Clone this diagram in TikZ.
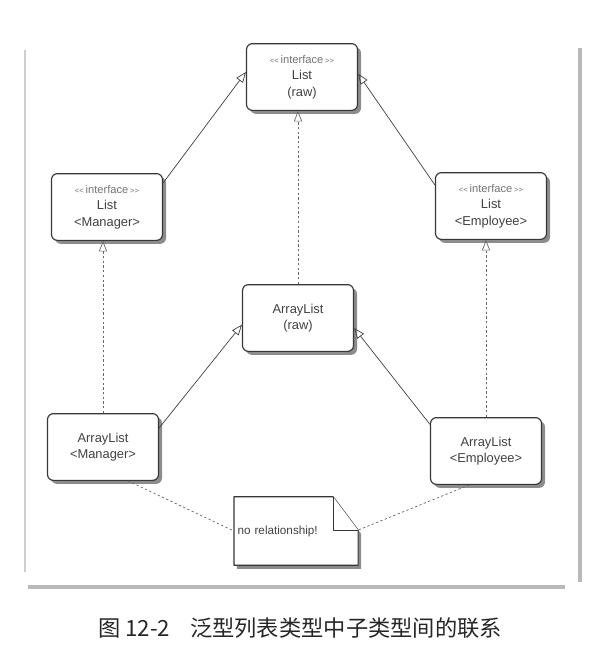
\documentclass[tikz,border=0pt]{standalone}
\usepackage{fontspec}
\setmainfont{Liberation Sans}
\newfontfamily\cjkfont{Noto Sans CJK SC}
\usetikzlibrary{arrows.meta,shadows,backgrounds}
\definecolor{boxline}{RGB}{55,55,55}
\definecolor{textgray}{RGB}{65,65,65}
\definecolor{framegray}{RGB}{185,185,185}
\newcommand{\ifacelabel}{{\fontsize{9.5}{11}\selectfont\color{black!55}%
  {\fontsize{6.5}{7}\selectfont<{}<}\,interface\,{\fontsize{6.5}{7}\selectfont>{}>}}}

\begin{document}
\begin{tikzpicture}[x=0.03cm,y=-0.03cm,
  box/.style={draw=boxline,fill=white,rounded corners=5pt,line width=1pt,
              align=center,minimum width=3.33cm,minimum height=2cm,
              text=textgray,font=\fontsize{11}{14}\selectfont,
              drop shadow={shadow xshift=3pt,shadow yshift=-3pt,
                           fill=black!60,opacity=0.75}},
  notebox/.style={text width=3.5cm,inner xsep=3pt,minimum height=2.04cm,
                  align=left,text=textgray,font=\fontsize{10}{12}\selectfont},
  noteline/.style={draw=boxline,fill=white,line width=1pt,line join=round},
  noteshadow/.style={drop shadow={shadow xshift=2.5pt,shadow yshift=-3pt,
                                  fill=black!60,opacity=0.75}},
  arrow/.style={-{Triangle[open,length=9pt,width=7pt]},line width=0.6pt,
                color=black!75},
  dasharrow/.style={arrow,color=black!60,dash pattern=on 2pt off 2pt},
  noteedge/.style={line width=0.6pt,color=black!60,dash pattern=on 2pt off 2pt},
  caption/.style={font=\cjkfont\fontsize{19}{19}\selectfont,text=black!85}
]
\useasboundingbox (0,0) rectangle (601,672);

% page frame
\draw[framegray!70,line width=1.5pt] (25,50) -- (25,572);
\draw[framegray,line width=3pt] (580,48) -- (580,582);
\draw[framegray,line width=4pt] (28,587) -- (565,587);

% classes
\node[box] (listraw) at (302,77) {\ifacelabel\\List\\(raw)};
\node[box] (listmgr) at (107,207) {\ifacelabel\\List\\<Manager>};
\node[box] (listemp) at (491,206) {\ifacelabel\\List\\<Employee>};
\node[box] (alraw) at (298,318) {ArrayList\\(raw)};
\node[box] (almgr) at (103,447) {ArrayList\\<Manager>};
\node[box] (alemp) at (486,451) {ArrayList\\<Employee>};

% note
\node[notebox] (note) at (296,531) {no relationship!};
\begin{scope}[on background layer]
\filldraw[noteline,noteshadow] (note.north west) -- ([xshift=-0.75cm]note.north east)
  -- ([yshift=-1cm]note.north east) -- (note.south east)
  -- (note.south west) -- cycle;
\draw[noteline] ([xshift=-0.75cm]note.north east)
  |- ([yshift=-1cm]note.north east);
\end{scope}

% connectors
\draw[arrow] ([yshift=0.72cm]listmgr.east) -- ([yshift=0.15cm]listraw.west);
\draw[arrow] ([yshift=0.63cm]listemp.west) -- ([yshift=0.1cm]listraw.east);
\draw[arrow] ([yshift=0.57cm]almgr.east) -- ([yshift=-0.2cm]alraw.west);
\draw[arrow] ([yshift=0.8cm]alemp.west) -- ([yshift=-0.3cm]alraw.east);
\draw[dasharrow] (alraw.north) -- (alraw.north |- listraw.south);
\draw[dasharrow] (almgr.north) -- (almgr.north |- listmgr.south);
\draw[dasharrow] (alemp.north) -- (alemp.north |- listemp.south);
\draw[noteedge] ([xshift=0.75cm]almgr.south) -- (note.west);
\draw[noteedge] ([xshift=-0.5cm]alemp.south) -- ([yshift=-1cm]note.north east);

% caption
\node[caption] (cap) at (300,628) {图 12-2\hspace{0.9em}泛型列表类型中子类型间的联系};
\end{tikzpicture}
\end{document}
